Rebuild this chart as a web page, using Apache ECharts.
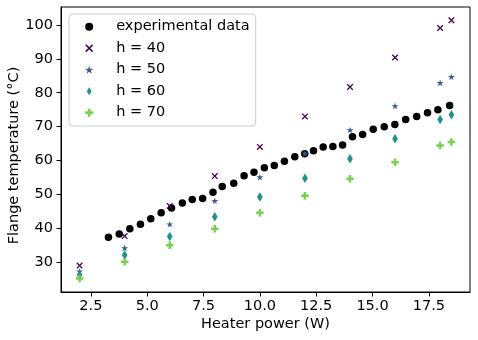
<!DOCTYPE html>
<html><head><meta charset="utf-8">
<script src="https://cdn.jsdelivr.net/npm/echarts@6/dist/echarts.min.js"></script>
<style>html,body{margin:0;padding:0;background:#fff}#c{width:478px;height:340px}</style>
</head><body><div id="c"></div>
<script>
const expX = [3.28,3.76,4.23,4.70,5.16,5.62,6.08,6.56,7.00,7.46,7.92,8.33,8.84,9.30,9.74,10.20,10.64,11.09,11.55,11.99,12.38,12.81,13.24,13.67,14.11,14.56,15.03,15.52,15.99,16.47,16.96,17.44,17.90,18.42];
const expY = [37.35,38.3,39.9,41.2,42.85,44.6,46.0,47.45,48.5,48.8,50.6,52.3,53.3,55.5,56.5,57.85,58.5,59.8,61.1,62.0,62.9,64.0,64.1,64.6,67.0,67.7,69.2,70.0,70.6,72.1,73.0,74.1,75.0,76.2];
const modelX = [2,4,6,8,10,12,14,16,18,18.5];
const h40 = [29.0,37.7,46.6,55.4,64.0,73.0,81.7,90.4,99.1,101.4];
const h50 = [27.3,34.2,41.2,48.1,55.1,62.1,69.0,76.1,82.9,84.7];
const h60 = [26.2,32.1,37.6,43.4,49.2,54.8,60.5,66.4,72.1,73.5];
const h70 = [25.2,30.1,35.0,39.9,44.6,49.6,54.6,59.5,64.4,65.5];
const seriesNames = ['experimental data','h = 40','h = 50','h = 60','h = 70'];
const xTicks = [2.5,5,7.5,10,12.5,15,17.5];
const yTicks = [30,40,50,60,70,80,90,100];

const FONT = 'DejaVu Sans';
const FS = 14.5;
function starPath(){
  let p = 'path://';
  for (let i=0;i<10;i++){
    const r = (i%2) ? 19.1 : 50;
    const a = -Math.PI/2 + i*Math.PI/5;
    const x = (50 + r*Math.cos(a)).toFixed(2), y = (50 + r*Math.sin(a)).toFixed(2);
    p += (i===0?'M':'L') + x + ',' + y + ' ';
  }
  return p + 'Z';
}
const STAR = starPath();
const XMARK = 'path://M0,1.4 L1.4,0 L10,8.6 L8.6,10 Z M8.6,0 L10,1.4 L1.4,10 L0,8.6 Z';
const PLUS = 'path://M2,0 L4,0 L4,2 L6,2 L6,4 L4,4 L4,6 L2,6 L2,4 L0,4 L0,2 L2,2 Z';
const DIAM = 'path://M3,0 L6,5 L3,10 L0,5 Z';
const colors = ['#000000','#440154','#3b5a8c','#21918c','#7ad151'];
const symbols = ['circle', XMARK, STAR, DIAM, PLUS];
const sizes = [7.5, 6.5, 7, 9.5, 7.5];

function pairs(xs, ys){ return xs.map((x,i)=>[x, ys[i]]); }
const allY = [expY, h40, h50, h60, h70];
const allX = [expX, modelX, modelX, modelX, modelX];

const chart = echarts.init(document.getElementById('c'), null, {renderer:'canvas'});
chart.setOption({
  animation: false,
  backgroundColor: '#ffffff',
  textStyle: {fontFamily: FONT},
  grid: {left: 61, right: 8, top: 7, bottom: 48, show: true, borderColor: '#000', borderWidth: 1, containLabel: false, outerBoundsMode: 'none'},
  legend: {
    orient: 'vertical', left: 69, top: 14,
    padding: [4.7, 6, 5.3, 16],
    itemWidth: 44, itemHeight: 8, itemGap: 5.5,
    backgroundColor: 'rgba(255,255,255,0.8)',
    borderColor: '#cccccc', borderWidth: 1, borderRadius: 4,
    textStyle: {fontFamily: FONT, fontSize: FS, color: '#000', lineHeight: 16},
    data: seriesNames.map((n,i)=>({name: n, icon: symbols[i]}))
  },
  xAxis: {
    type: 'value', min: 1.175, max: 19.325,
    name: 'Heater power (W)', nameLocation: 'middle', nameGap: 25, nameMoveOverlap: false,
    nameTextStyle: {fontFamily: FONT, fontSize: FS, color: '#000'},
    axisLine: {show: true, onZero: false, lineStyle: {color: '#000', width: 1}},
    axisTick: {show: true, length: 4.5, lineStyle: {color: '#000', width: 1}, customValues: xTicks},
    axisLabel: {color: '#000', fontFamily: FONT, fontSize: FS, margin: 7, customValues: xTicks,
      formatter: v => Number(v).toFixed(1)},
    splitLine: {show: false}
  },
  yAxis: {
    type: 'value', min: 21.2, max: 105.3,
    name: 'Flange temperature (°C)', nameLocation: 'middle', nameGap: 39, nameRotate: 90, nameMoveOverlap: false,
    nameTextStyle: {fontFamily: FONT, fontSize: FS, color: '#000', padding: [0, 12, 0, 0]},
    axisLine: {show: true, onZero: false, lineStyle: {color: '#000', width: 1}},
    axisTick: {show: true, length: 4.5, lineStyle: {color: '#000', width: 1}, customValues: yTicks},
    axisLabel: {color: '#000', fontFamily: FONT, fontSize: FS, margin: 8, customValues: yTicks},
    splitLine: {show: false}
  },
  series: seriesNames.map((n,i)=>({
    name: n, type: 'scatter',
    symbol: symbols[i], symbolSize: sizes[i], symbolKeepAspect: true,
    itemStyle: {color: colors[i], opacity: 1},
    data: pairs(allX[i], allY[i]),
    z: 2 + i
  }))
});
</script></body></html>
